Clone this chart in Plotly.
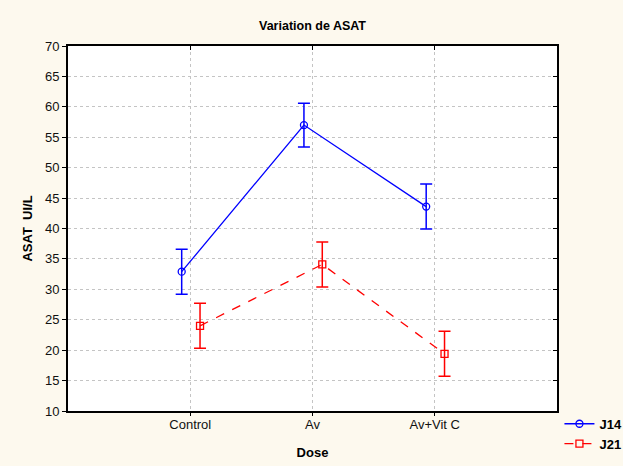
import plotly.graph_objects as go

categories = ["Control", "Av", "Av+Vit C"]
j14_mean = [32.9, 57.0, 43.6]
j14_err = [3.7, 3.6, 3.7]
j21_mean = [24.0, 34.1, 19.4]
j21_err = [3.7, 3.7, 3.7]
y_ticks = [10, 15, 20, 25, 30, 35, 40, 45, 50, 55, 60, 65, 70]

pos = [1, 2, 3]
off14 = -0.07
off21 = 0.08

fig = go.Figure()
fig.add_trace(go.Scatter(
    x=[p + off14 for p in pos], y=j14_mean, name="<b>J14</b>",
    mode="lines+markers",
    line=dict(color="#0000FF", width=1.3),
    marker=dict(symbol="circle-open", size=7, color="#0000FF", line=dict(width=1.3)),
    error_y=dict(type="data", array=j14_err, color="#0000FF", thickness=1.5, width=6),
))
fig.add_trace(go.Scatter(
    x=[p + off21 for p in pos], y=j21_mean, name="<b>J21</b>",
    mode="lines+markers",
    line=dict(color="#FF0000", width=1.3, dash="dash"),
    marker=dict(symbol="square-open", size=7, color="#FF0000", line=dict(width=1.3)),
    error_y=dict(type="data", array=j21_err, color="#FF0000", thickness=1.5, width=6),
))
# invisible trace to carry mirrored inside ticks on top/right
fig.add_trace(go.Scatter(x=[None], y=[None], xaxis="x2", yaxis="y2", showlegend=False))

grid = dict(showgrid=True, gridcolor="#C4C4C4", griddash="dot", gridwidth=1, zeroline=False)
fig.update_layout(
    width=623, height=466,
    paper_bgcolor="#FDF9EE", plot_bgcolor="#FFFFFF",
    margin=dict(l=68, r=66, t=46, b=55, autoexpand=False),
    font=dict(family="Liberation Sans, Arial", size=13, color="#111111"),
    title=dict(text="<b>Variation de ASAT</b>", x=0.5, xref="paper", y=0.946, yanchor="middle",
               font=dict(size=12.5, color="#000000")),
    showlegend=True,
    legend=dict(x=1.005, y=0.006, xanchor="left", yanchor="top", bgcolor="rgba(0,0,0,0)",
                font=dict(size=13, family="Liberation Sans, Arial", color="#000000"),
                tracegroupgap=0, itemwidth=30),
    xaxis=dict(range=[0, 4], tickmode="array", tickvals=pos, ticktext=categories,
               showline=True, linecolor="#000000", linewidth=2, mirror=True,
               ticks="outside", ticklen=3, tickcolor="#000000", automargin=False,
               ticklabelstandoff=-3,
               title=dict(text="<b>Dose</b>", standoff=17, font=dict(size=13, color="#000000")),
               **grid),
    yaxis=dict(range=[10, 70], tickmode="array", tickvals=y_ticks,
               showline=True, linecolor="#000000", linewidth=2, mirror=True,
               ticks="outside", ticklen=4, tickcolor="#000000", automargin=False,
               title=dict(text="<b>ASAT  UI/L</b>", standoff=9, font=dict(size=13, color="#000000")),
               **grid),
    xaxis2=dict(range=[0, 4], overlaying="x", side="top", tickmode="array", tickvals=[1, 2, 3],
                ticks="inside", ticklen=4, tickcolor="#000000", showticklabels=False,
                showgrid=False, zeroline=False, automargin=False),
    yaxis2=dict(range=[10, 70], overlaying="y", side="right", tickmode="array", tickvals=y_ticks,
                ticks="inside", ticklen=4, tickcolor="#000000", showticklabels=False,
                showgrid=False, zeroline=False, automargin=False),
)

fig.write_html("out.html", config={"displayModeBar": False},
               post_script="document.body.style.margin='0';")
